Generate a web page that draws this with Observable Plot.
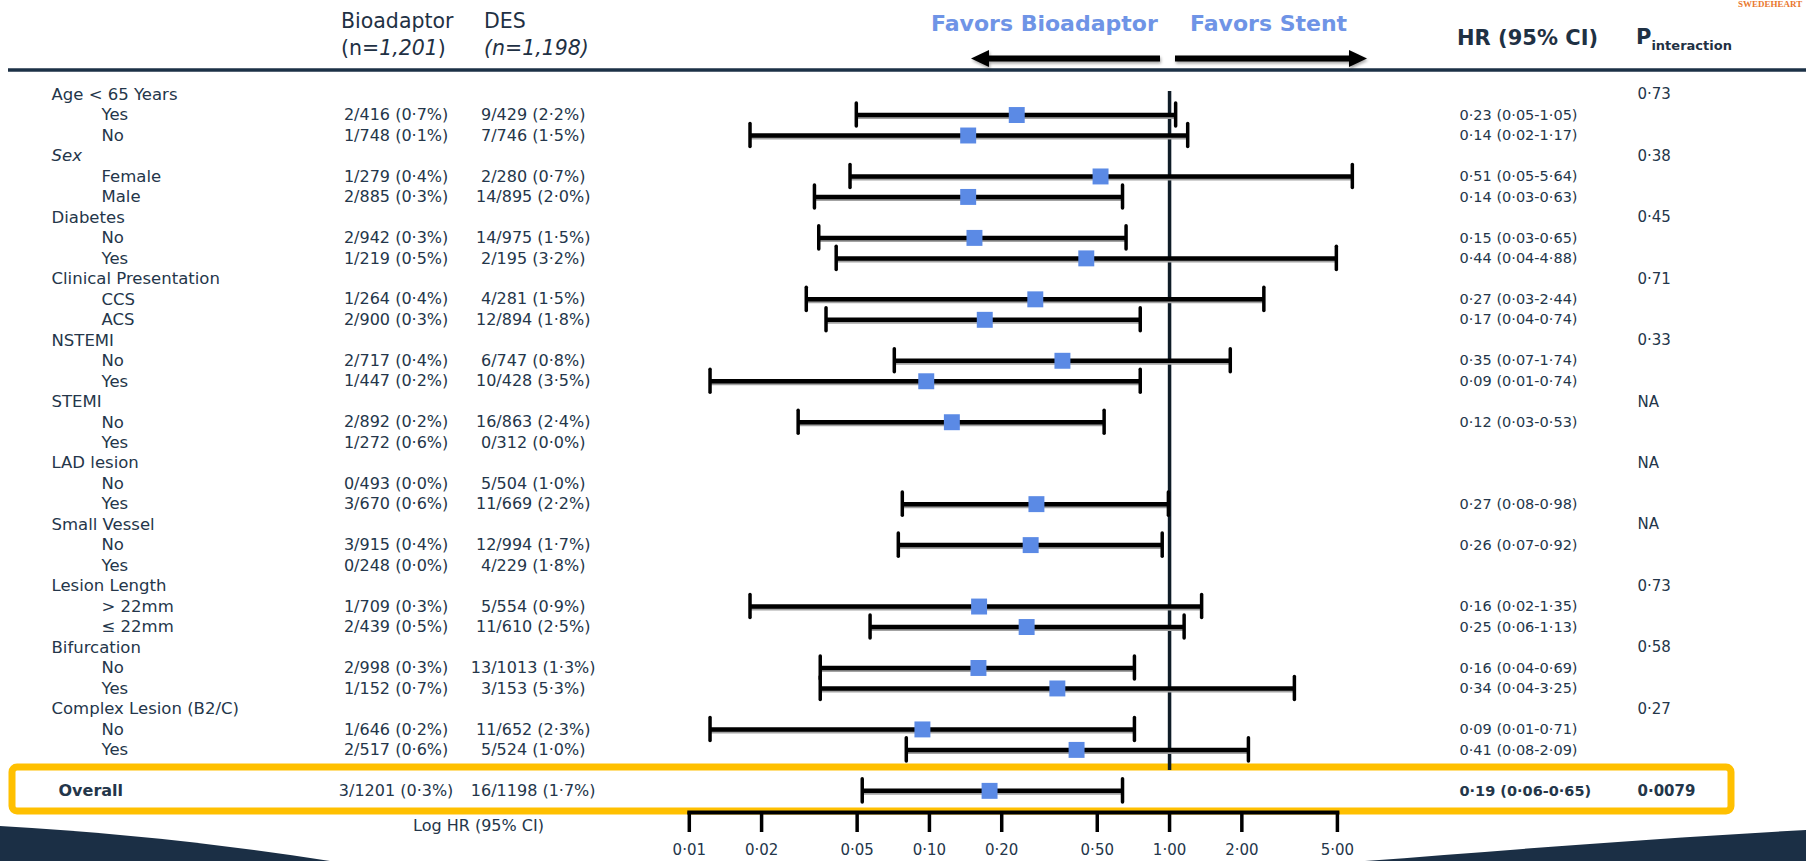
<!DOCTYPE html>
<html>
<head>
<meta charset="utf-8">
<script src="https://cdn.jsdelivr.net/npm/d3@7"></script>
<script src="https://cdn.jsdelivr.net/npm/@observablehq/plot@0.6"></script>
<style>
  html, body { margin: 0; padding: 0; background: #fff; }
  #wrap { position: relative; width: 1806px; height: 861px; overflow: hidden; background: #fff; font-family: "DejaVu Sans", sans-serif; color: #24364a; }
  #bg, #chart, #fg { position: absolute; left: 0; top: 0; }
  .h { position: absolute; white-space: nowrap; line-height: 1; transform: translateY(-50%); }
  .colh { font-size: 20.5px; color: #1f3144; }
  .fav { font-size: 22px; font-weight: bold; color: #6f94e6; }
  .hrh { font-size: 21px; font-weight: bold; color: #1f3144; }
  .hrh sub { font-size: 13px; vertical-align: -6px; }
  .logo { position: absolute; left: 1738px; top: 0px; font-family: "Liberation Serif", serif; font-weight: bold; font-size: 9px; color: #e9772e; line-height: 1; }
</style>
</head>
<body>
<div id="wrap">
  <svg id="bg" width="1806" height="861">
    <line x1="8" x2="1806" y1="70" y2="70" stroke="#1c3146" stroke-width="3.5"/>
    <rect x="12" y="767" width="1719" height="44" rx="5" ry="5" fill="none" stroke="#FFC000" stroke-width="7"/>
    <path d="M0,826 C110,832 220,844 330,861 L0,861 Z" fill="#1b2f45"/>
    <path d="M1365,861 C1500,851 1650,838 1806,830 L1806,861 Z" fill="#1b2f45"/>
  </svg>
  <div id="chart"></div>
  <div id="fg">
    <div class="logo">SWEDEHEART</div>
    <div class="h colh" style="left:341px;top:21px">Bioadaptor</div>
    <div class="h colh" style="left:341px;top:48px">(n=<i>1,201</i>)</div>
    <div class="h colh" style="left:484px;top:21px">DES</div>
    <div class="h colh" style="left:484px;top:48px"><i>(n=1,198)</i></div>
    <div class="h fav" style="left:931px;top:24px">Favors Bioadaptor</div>
    <div class="h fav" style="left:1190px;top:24px">Favors Stent</div>
    <div class="h hrh" style="left:1457px;top:38px">HR (95% CI)</div>
    <div class="h hrh" style="left:1636px;top:39px">P<sub>interaction</sub></div>
    <svg width="1806" height="90" style="position:absolute;left:0;top:0;overflow:visible;filter:drop-shadow(1px 2px 1.5px rgba(0,0,0,0.35))">
      <line x1="1160" x2="986" y1="58.5" y2="58.5" stroke="#000" stroke-width="6"/>
      <polygon points="971,58.5 989,50 989,67" fill="#000"/>
      <line x1="1175" x2="1352" y1="58.5" y2="58.5" stroke="#000" stroke-width="6"/>
      <polygon points="1367,58.5 1349,50 1349,67" fill="#000"/>
    </svg>
  </div>
</div>
<script>
// ---- data ----
const rowLabel = ["Age < 65 Years","Yes","No","Sex","Female","Male","Diabetes","No","Yes","Clinical Presentation","CCS","ACS","NSTEMI","No","Yes","STEMI","No","Yes","LAD lesion","No","Yes","Small Vessel","No","Yes","Lesion Length","> 22mm","≤ 22mm","Bifurcation","No","Yes","Complex Lesion (B2/C)","No","Yes","","Overall"];
const rowType = ["group","sub","sub","italic","sub","sub","group","sub","sub","group","sub","sub","group","sub","sub","group","sub","sub","group","sub","sub","group","sub","sub","group","sub","sub","group","sub","sub","group","sub","sub","blank","overall"];
const bioEvents = ["","2/416 (0·7%)","1/748 (0·1%)","","1/279 (0·4%)","2/885 (0·3%)","","2/942 (0·3%)","1/219 (0·5%)","","1/264 (0·4%)","2/900 (0·3%)","","2/717 (0·4%)","1/447 (0·2%)","","2/892 (0·2%)","1/272 (0·6%)","","0/493 (0·0%)","3/670 (0·6%)","","3/915 (0·4%)","0/248 (0·0%)","","1/709 (0·3%)","2/439 (0·5%)","","2/998 (0·3%)","1/152 (0·7%)","","1/646 (0·2%)","2/517 (0·6%)","","3/1201 (0·3%)"];
const desEvents = ["","9/429 (2·2%)","7/746 (1·5%)","","2/280 (0·7%)","14/895 (2·0%)","","14/975 (1·5%)","2/195 (3·2%)","","4/281 (1·5%)","12/894 (1·8%)","","6/747 (0·8%)","10/428 (3·5%)","","16/863 (2·4%)","0/312 (0·0%)","","5/504 (1·0%)","11/669 (2·2%)","","12/994 (1·7%)","4/229 (1·8%)","","5/554 (0·9%)","11/610 (2·5%)","","13/1013 (1·3%)","3/153 (5·3%)","","11/652 (2·3%)","5/524 (1·0%)","","16/1198 (1·7%)"];
const hrPoint = [null,0.231,0.145,null,0.516,0.145,null,0.154,0.45,null,0.276,0.17,null,0.358,0.097,null,0.124,null,null,null,0.279,null,0.264,null,null,0.161,0.254,null,0.16,0.341,null,0.0935,0.41,null,0.178];
const ciLow = [null,0.0496,0.0179,null,0.0467,0.0332,null,0.0346,0.0409,null,0.0307,0.0371,null,0.0714,0.0122,null,0.0284,null,null,null,0.0771,null,0.0742,null,null,0.0179,0.0566,null,0.0351,0.0351,null,0.0122,0.0801,null,0.0525];
const ciHigh = [null,1.06,1.19,null,5.77,0.637,null,0.659,4.95,null,2.47,0.755,null,1.79,0.755,null,0.534,null,null,null,0.989,null,0.932,null,null,1.36,1.15,null,0.714,3.31,null,0.714,2.13,null,0.637];
const hrLabel = ["","0·23 (0·05-1·05)","0·14 (0·02-1·17)","","0·51 (0·05-5·64)","0·14 (0·03-0·63)","","0·15 (0·03-0·65)","0·44 (0·04-4·88)","","0·27 (0·03-2·44)","0·17 (0·04-0·74)","","0·35 (0·07-1·74)","0·09 (0·01-0·74)","","0·12 (0·03-0·53)","","","","0·27 (0·08-0·98)","","0·26 (0·07-0·92)","","","0·16 (0·02-1·35)","0·25 (0·06-1·13)","","0·16 (0·04-0·69)","0·34 (0·04-3·25)","","0·09 (0·01-0·71)","0·41 (0·08-2·09)","","0·19 (0·06-0·65)"];
const pLabel = ["0·73","","","0·38","","","0·45","","","0·71","","","0·33","","","NA","","","NA","","","NA","","","0·73","","","0·58","","","0·27","","","","0·0079"];
const tickValues = [0.01,0.02,0.05,0.1,0.2,0.5,1,2,5];
const axisTitle = "Log HR (95% CI)";

// ---- table built from the arrays ----
const rows = rowLabel.map((label, i) => ({
  i, label, type: rowType[i], bio: bioEvents[i], des: desEvents[i],
  hr: hrPoint[i], lo: ciLow[i], hi: ciHigh[i], hrText: hrLabel[i], p: pLabel[i]
}));
const ci = rows.filter(d => d.hr != null);
const isOverall = d => d.type === "overall";
const fmt = d => d3.format(".2f")(d).replace(".", "·");

const ML = 688.8, MR = 469.1;
const XR = 1806 - MR;
const blue = "#5b8ae5", ink = "#24364a";

const chart = Plot.plot({
  width: 1806, height: 861,
  marginLeft: ML, marginRight: MR, marginTop: 91, marginBottom: 49,
  style: {background: "transparent", fontFamily: "'DejaVu Sans', sans-serif", color: ink},
  x: {type: "log", domain: [0.01, 5], label: null},
  y: {type: "band", domain: d3.range(rows.length), range: [83.8, 800.6], padding: 0, round: false, axis: null},
  marks: [
    // axis line, ticks and tick labels
    Plot.frame({anchor: "bottom", stroke: "#000", strokeWidth: 4}),
    Plot.axisX(tickValues, {anchor: "bottom", tickSize: 20, tickFormat: () => "", stroke: "#000", strokeWidth: 3.5, label: null}),
    Plot.text(tickValues, {x: d => d, text: fmt, frameAnchor: "bottom", dy: 42, textAnchor: "middle", fontSize: 15, fill: ink}),
    Plot.text([axisTitle], {frameAnchor: "bottom-left", dx: 478 - ML, dy: 18, textAnchor: "middle", fontSize: 16, fill: ink}),
    // reference line
    Plot.ruleX([1], {stroke: "#0f1c27", strokeWidth: 3.5, insetBottom: 42}),
    // confidence intervals
    Plot.ruleY(ci, {y: "i", x1: "lo", x2: "hi", stroke: "#a3a3a3", strokeWidth: 4, dy: 2}),
    Plot.ruleY(ci, {y: "i", x1: "lo", x2: "hi", stroke: "#000", strokeWidth: 4.5}),
    Plot.tickX(ci, {x: "lo", y: "i", stroke: "#000", strokeWidth: 3.5, strokeLinecap: "round", insetTop: -1.3, insetBottom: -1.3}),
    Plot.tickX(ci, {x: "hi", y: "i", stroke: "#000", strokeWidth: 3.5, strokeLinecap: "round", insetTop: -1.3, insetBottom: -1.3}),
    Plot.dot(ci, {x: "hr", y: "i", symbol: "square", r: 9, fill: blue, stroke: null}),
    // row labels
    Plot.text(rows.filter(d => d.type === "group"), {y: "i", text: "label", frameAnchor: "left", dx: 51 - ML, textAnchor: "start", fontSize: 16.5, fill: ink}),
    Plot.text(rows.filter(d => d.type === "italic"), {y: "i", text: "label", frameAnchor: "left", dx: 51 - ML, textAnchor: "start", fontSize: 16.5, fontStyle: "italic", fill: ink}),
    Plot.text(rows.filter(d => d.type === "sub"), {y: "i", text: "label", frameAnchor: "left", dx: 101 - ML, textAnchor: "start", fontSize: 16.5, fill: ink}),
    Plot.text(rows.filter(isOverall), {y: "i", text: "label", frameAnchor: "left", dx: 58 - ML, textAnchor: "start", fontSize: 16, fontWeight: "bold", fill: ink}),
    // event columns
    Plot.text(rows.filter(d => d.bio), {y: "i", text: "bio", frameAnchor: "left", dx: 395.6 - ML, textAnchor: "middle", fontSize: 16, fill: ink}),
    Plot.text(rows.filter(d => d.des), {y: "i", text: "des", frameAnchor: "left", dx: 532.7 - ML, textAnchor: "middle", fontSize: 16, fill: ink}),
    // HR and p columns
    Plot.text(rows.filter(d => d.hrText && !isOverall(d)), {y: "i", text: "hrText", frameAnchor: "right", dx: 1459 - XR, textAnchor: "start", fontSize: 14.5, fill: ink}),
    Plot.text(rows.filter(d => d.hrText && isOverall(d)), {y: "i", text: "hrText", frameAnchor: "right", dx: 1459 - XR, textAnchor: "start", fontSize: 14.5, fontWeight: "bold", fill: ink}),
    Plot.text(rows.filter(d => d.p && !isOverall(d)), {y: "i", text: "p", frameAnchor: "right", dx: 1637 - XR, textAnchor: "start", fontSize: 15, fill: ink}),
    Plot.text(rows.filter(d => d.p && isOverall(d)), {y: "i", text: "p", frameAnchor: "right", dx: 1637 - XR, textAnchor: "start", fontSize: 15, fontWeight: "bold", fill: ink})
  ]
});
document.getElementById("chart").appendChild(chart);
</script>
</body>
</html>
